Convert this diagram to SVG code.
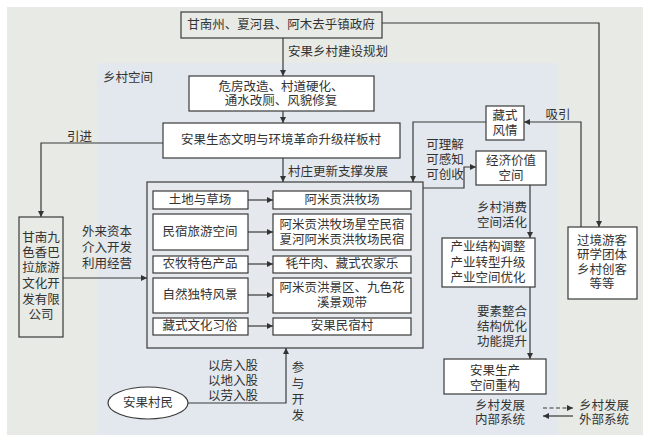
<svg xmlns="http://www.w3.org/2000/svg" width="650" height="442" viewBox="0 0 650 442">
<defs>
<marker id="ah" viewBox="0 0 8 8" refX="8" refY="4" markerWidth="6" markerHeight="6" markerUnits="userSpaceOnUse" orient="auto">
<path d="M0,0 L8,4 L0,8 Z" fill="#333"/>
</marker>
<style>
text{font-family:"Liberation Serif","Noto Sans CJK SC",serif;font-size:12.5px;fill:#333;dominant-baseline:central}
.c{text-anchor:middle}
.r{text-anchor:end}
.box{fill:#fff;stroke:#3a3a3a;stroke-width:1.2}
.gbox{fill:#e7eae5;stroke:#3a3a3a;stroke-width:1.2}
.ln{fill:none;stroke:#3a3a3a;stroke-width:1.2}
.ar{fill:none;stroke:#3a3a3a;stroke-width:1.2;marker-end:url(#ah)}
</style>
</defs>
<rect x="0" y="0" width="650" height="442" fill="#fff"/>
<rect x="7" y="7" width="636" height="428" fill="#e7eae5"/>
<rect x="97" y="63" width="461" height="372" fill="#e2e8ee"/>
<text x="103" y="78">乡村空间</text>

<g id="connectors">
<path class="ar" d="M283,38 V76"/>
<path class="ar" d="M283,111 V123"/>
<path class="ar" d="M283,158 V182"/>
<path class="ar" d="M163,143 H41 V217"/>
<path class="ar" d="M63,278 H147"/>
<path class="ar" d="M188,403 H286 V348"/>
<path class="ar" d="M486,122 H413 V182"/>
<path class="ar" d="M423,188 H464 V167 H476"/>
<path class="ar" d="M530,185 V238"/>
<path class="ar" d="M530,287 V359"/>
<path class="ar" d="M382,23 H599 V227"/>
<path class="ar" d="M581,227 V122 H524"/>
</g>

<g id="labels">
<text x="288" y="52">安果乡村建设规划</text>
<text x="67" y="137">引进</text>
<text x="288" y="172">村庄更新支撑发展</text>
<text class="c" x="107" y="232">外来资本</text>
<text class="c" x="107" y="248">介入开发</text>
<text class="c" x="107" y="264">利用经营</text>
<text class="c" x="233" y="366">以房入股</text>
<text class="c" x="233" y="381">以地入股</text>
<text class="c" x="233" y="396">以劳入股</text>
<text class="c" x="298" y="368">参</text>
<text class="c" x="298" y="384">与</text>
<text class="c" x="298" y="400">开</text>
<text class="c" x="298" y="416">发</text>
<text class="c" x="445" y="145">可理解</text>
<text class="c" x="445" y="160">可感知</text>
<text class="c" x="445" y="175">可创收</text>
<text class="c" x="558" y="115">吸引</text>
<text class="r" x="527" y="208">乡村消费</text>
<text class="r" x="527" y="223">空间活化</text>
<text class="r" x="527" y="312">要素整合</text>
<text class="r" x="527" y="327">结构优化</text>
<text class="r" x="527" y="342">功能提升</text>
</g>

<g id="gov">
<rect class="gbox" x="181" y="12" width="201" height="26"/>
<text class="c" x="281" y="25">甘南州、夏河县、阿木去乎镇政府</text>
</g>
<g id="renovation">
<rect class="box" x="189" y="76" width="185" height="35"/>
<text class="c" x="281" y="87">危房改造、村道硬化、</text>
<text class="c" x="281" y="101">通水改厕、风貌修复</text>
</g>
<g id="model-village">
<rect class="box" x="163" y="123" width="237" height="35"/>
<text class="c" x="281" y="140">安果生态文明与环境革命升级样板村</text>
</g>
<g id="company">
<rect class="gbox" x="19" y="217" width="44" height="120"/>
<text class="c" x="41" y="238">甘南九</text>
<text class="c" x="41" y="253">色香巴</text>
<text class="c" x="41" y="268">拉旅游</text>
<text class="c" x="41" y="284">文化开</text>
<text class="c" x="41" y="300">发有限</text>
<text class="c" x="41" y="315">公司</text>
</g>
<g id="resources">
<rect x="147" y="182" width="276" height="166" fill="#e5e9ed" stroke="#3a3a3a" stroke-width="1.2"/>
<rect class="box" x="153" y="191" width="95" height="18"/>
<text class="c" x="200" y="200">土地与草场</text>
<rect class="box" x="273" y="191" width="138" height="18"/>
<text class="c" x="342" y="200">阿米贡洪牧场</text>
<rect class="box" x="153" y="214" width="95" height="36"/>
<text class="c" x="200" y="232">民宿旅游空间</text>
<rect class="box" x="273" y="214" width="138" height="36"/>
<text class="c" x="342" y="225">阿米贡洪牧场星空民宿</text>
<text class="c" x="342" y="240">夏河阿米贡洪牧场民宿</text>
<rect class="box" x="153" y="256" width="95" height="17"/>
<text class="c" x="200" y="264">农牧特色产品</text>
<rect class="box" x="273" y="256" width="138" height="17"/>
<text class="c" x="342" y="264">牦牛肉、藏式农家乐</text>
<rect class="box" x="153" y="278" width="95" height="35"/>
<text class="c" x="200" y="295">自然独特风景</text>
<rect class="box" x="273" y="278" width="138" height="35"/>
<text class="c" x="342" y="288">阿米贡洪景区、九色花</text>
<text class="c" x="342" y="303">溪景观带</text>
<rect class="box" x="153" y="318" width="95" height="17"/>
<text class="c" x="200" y="326">藏式文化习俗</text>
<rect class="box" x="273" y="318" width="138" height="17"/>
<text class="c" x="342" y="326">安果民宿村</text>
<path class="ar" d="M248,200 H273"/>
<path class="ar" d="M248,232 H273"/>
<path class="ar" d="M248,264 H273"/>
<path class="ar" d="M248,295 H273"/>
<path class="ar" d="M248,326 H273"/>
</g>
<g id="villagers">
<ellipse cx="148" cy="403" rx="40" ry="16" fill="#fff" stroke="#3a3a3a" stroke-width="1.2"/>
<text class="c" x="148" y="403">安果村民</text>
</g>
<g id="tibetan">
<rect class="box" x="486" y="106" width="38" height="34"/>
<text class="c" x="505" y="116">藏式</text>
<text class="c" x="505" y="131">风情</text>
</g>
<g id="economic">
<rect class="box" x="476" y="151" width="70" height="34"/>
<text class="c" x="511" y="161">经济价值</text>
<text class="c" x="511" y="176">空间</text>
</g>
<g id="industry">
<rect class="box" x="442" y="238" width="93" height="49"/>
<text class="c" x="488" y="247">产业结构调整</text>
<text class="c" x="488" y="263">产业转型升级</text>
<text class="c" x="488" y="278">产业空间优化</text>
</g>
<g id="production">
<rect class="box" x="444" y="359" width="102" height="35"/>
<text class="c" x="495" y="371">安果生产</text>
<text class="c" x="495" y="386">空间重构</text>
</g>
<g id="visitors">
<rect class="box" x="568" y="227" width="69" height="72"/>
<text class="c" x="602" y="241">过境游客</text>
<text class="c" x="602" y="255">研学团体</text>
<text class="c" x="602" y="270">乡村创客</text>
<text class="c" x="602" y="284">等等</text>
</g>
<g id="legend">
<text class="c" x="500" y="406">乡村发展</text>
<text class="c" x="500" y="420">内部系统</text>
<path d="M543,408 H573" fill="none" stroke="#3a3a3a" stroke-width="1.2" stroke-dasharray="4,2.5" marker-end="url(#ah)"/>
<path class="ar" d="M573,416 H543"/>
<text class="c" x="604" y="406">乡村发展</text>
<text class="c" x="604" y="420">外部系统</text>
</g>
</svg>
